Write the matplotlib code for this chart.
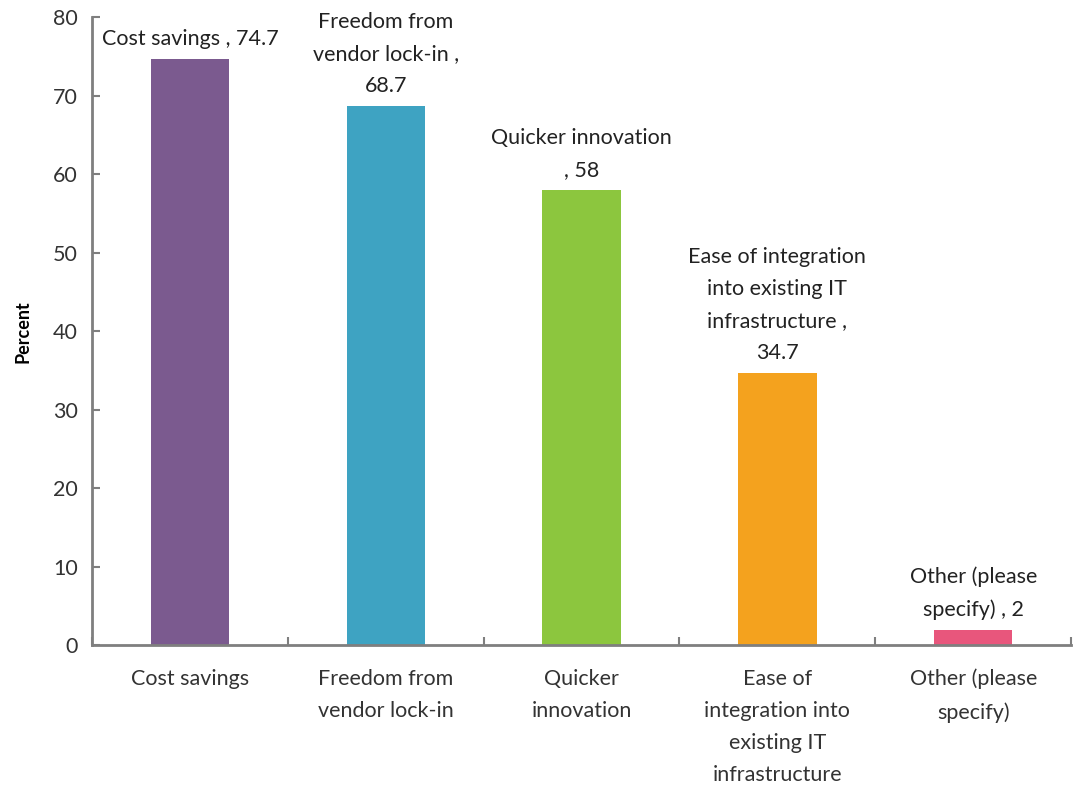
import matplotlib
matplotlib.use("Agg")
import matplotlib.pyplot as plt
import numpy as np

plt.rcParams.update({
    "font.family": ["Lato", "DejaVu Sans"],
    "font.size": 15.5,
})

categories = ["Cost savings", "Freedom from\nvendor lock-in", "Quicker\ninnovation",
              "Ease of\nintegration into\nexisting IT\ninfrastructure", "Other (please\nspecify)"]
values = [74.7, 68.7, 58, 34.7, 2]
value_labels = ["Cost savings , 74.7", "Freedom from\nvendor lock-in ,\n68.7",
                "Quicker innovation\n, 58", "Ease of integration\ninto existing IT\ninfrastructure ,\n34.7",
                "Other (please\nspecify) , 2"]
colors = ["#7B5A8F", "#3EA3C2", "#8CC63E", "#F4A21E", "#E8567C"]
yticks = [0, 10, 20, 30, 40, 50, 60, 70, 80]

AX = "#7f7f7f"

fig = plt.figure(figsize=(10.76, 7.85), dpi=100)
ax = fig.add_axes([0.0855, 0.178, 0.91, 0.8])
x = np.arange(len(values))
ax.bar(x, values, width=0.4, color=colors)

for xi, v, lab in zip(x, values, value_labels):
    ax.annotate(lab, (xi, v), xytext=(0, 7), textcoords="offset points",
                ha="center", va="bottom", linespacing=1.75, color="#222222")

ax.set_xlim(-0.5, 4.5)
ax.set_ylim(0, 80)
ax.set_yticks(yticks)
ax.set_xticks(x)
ax.set_xticklabels(categories, linespacing=1.75, color="#333333")
ax.set_xticks(np.arange(-0.5, 4.6, 1), minor=True)
ax.tick_params(axis="x", which="major", length=0, pad=17)
ax.tick_params(axis="x", which="minor", direction="in", length=6, width=1.5, color=AX)
ax.tick_params(axis="y", direction="in", length=6, width=1.5, color=AX,
               labelcolor="#333333", pad=10)
ax.set_ylabel("Percent", fontweight="bold", fontsize=13, labelpad=16)

for sp in ("top", "right"):
    ax.spines[sp].set_visible(False)
for sp in ("left", "bottom"):
    ax.spines[sp].set_color(AX)
    ax.spines[sp].set_linewidth(2)

fig.savefig("out.png")
